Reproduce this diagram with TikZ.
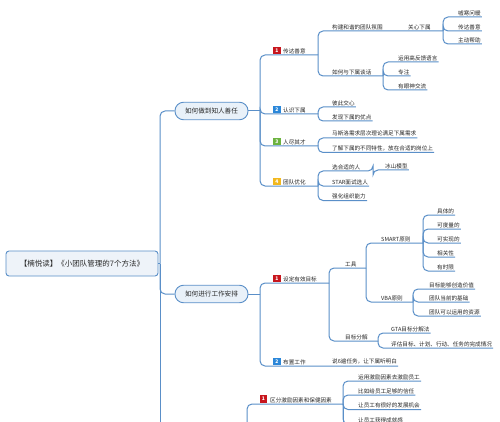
\documentclass[tikz,border=0pt]{standalone}
\usepackage{fontspec}
\newfontfamily\cjk{Noto Sans CJK SC}
\definecolor{lc}{HTML}{5A8FC8}
\definecolor{tx}{HTML}{262626}
\definecolor{pf}{HTML}{E9F1F9}
\definecolor{rf}{HTML}{EEF3F9}
\definecolor{bred}{HTML}{C8161D}
\definecolor{bblue}{HTML}{2B87D9}
\definecolor{bgreen}{HTML}{6CB33F}
\definecolor{byel}{HTML}{F2B81E}
\begin{document}
\begin{tikzpicture}[x=1pt,y=-1pt,
 conn/.style={draw=lc, line width=1pt, rounded corners=5pt},
 lf/.style={anchor=south west, inner xsep=1pt, inner ysep=1.3pt, text=tx, font=\cjk\fontsize{5.6}{6}\selectfont},
 bdg/.style={fill=#1, text=white, minimum size=7.5pt, inner sep=0pt, font=\cjk\bfseries\fontsize{5}{5}\selectfont},
 pill/.style={draw=lc, line width=0.9pt, fill=pf, rounded corners=8.5pt, minimum width=73pt, minimum height=17.5pt, font=\cjk\fontsize{6.6}{7}\selectfont, text=tx, inner sep=0pt},
 rootbox/.style={draw=lc, line width=0.9pt, fill=rf, rounded corners=3pt, minimum width=152pt, minimum height=25pt, font=\cjk\fontsize{7.5}{8}\selectfont, text=tx, inner sep=0pt}
]
\useasboundingbox (0,0) rectangle (500,422);
\clip (0,0) rectangle (500,422);
\fill[white] (0,0) rectangle (500,422);

% root and level 1
\node[rootbox] (root) at (82,263.5) {【楠悦读】《小团队管理的7个方法》};
\node[pill] (A) at (211.5,111) {如何做到知人善任};
\node[pill] (B) at (211.5,294) {如何进行工作安排};
\coordinate (t0) at (160,263.5);
\coordinate (tC) at (160,450);
\draw[conn] (root.east) -- (t0);
\draw[conn] (t0) |- (A.west);
\draw[conn] (t0) |- (B.west);
\draw[conn] (t0) -- (tC);

% ===== Section A =====
\coordinate (jA) at (260,111);
\draw[conn] (A.east) -- (jA);

% A1
\node[bdg=bred] (A1b) at (277,50.5) {1};
\node[lf] (A1) at (282,55) {传达善意};
\coordinate (jA1) at (318,55);
\draw[conn] (jA) |- (jA1);

\node[lf] (A11) at (331,31) {构建和谐的团队氛围};
\node[lf] (A111) at (407,31) {关心下属};
\coordinate (jA111) at (443,31);
\draw[conn] (jA1) |- (A11.south east) -- (A111.south east) -- (jA111);
\node[lf] (A1111) at (457,17) {嘘寒问暖};
\node[lf] (A1112) at (457,31) {传达善意};
\node[lf] (A1113) at (457,44) {主动帮助};
\draw[conn] (jA111) |- (A1111.south east);
\draw[conn] (jA111) |- (A1112.south east);
\draw[conn] (jA111) |- (A1113.south east);

\node[lf] (A12) at (331,76) {如何与下属谈话};
\coordinate (jA12) at (383,76);
\draw[conn] (jA1) |- (A12.south east) -- (jA12);
\node[lf] (A121) at (397,62) {运用高反馈语言};
\node[lf] (A122) at (397,76) {专注};
\node[lf] (A123) at (397,90) {有眼神交流};
\draw[conn] (jA12) |- (A121.south east);
\draw[conn] (jA12) |- (A122.south east);
\draw[conn] (jA12) |- (A123.south east);

% A2
\node[bdg=bblue] (A2b) at (277,109.5) {2};
\node[lf] (A2) at (282,114) {认识下属};
\coordinate (jA2) at (318,114);
\draw[conn] (jA) |- (jA2);
\node[lf] (A21) at (331,107) {彼此交心};
\node[lf] (A22) at (331,121) {发现下属的优点};
\draw[conn] (jA2) |- (A21.south east);
\draw[conn] (jA2) |- (A22.south east);

% A3
\node[bdg=bgreen] (A3b) at (277,141.5) {3};
\node[lf] (A3) at (282,146) {人尽其才};
\coordinate (jA3) at (318,146);
\draw[conn] (jA) |- (jA3);
\node[lf] (A31) at (331,138) {马斯洛需求层次理论满足下属需求};
\node[lf] (A32) at (331,152.5) {了解下属的不同特性，放在合适的岗位上};
\draw[conn] (jA3) |- (A31.south east);
\draw[conn] (jA3) |- (A32.south east);

% A4
\node[bdg=byel] (A4b) at (277,181.5) {4};
\node[lf] (A4) at (282,186) {团队优化};
\coordinate (jA4) at (318,186);
\draw[conn] (jA) |- (jA4);
\node[lf] (A41) at (331,171) {选合适的人};
\node[lf] (A411) at (384,170) {冰山模型};
\coordinate (jA41) at (373,171);
\draw[conn] (jA4) |- (A41.south east) -- (jA41) |- (A411.south east);
\node[lf] (A42) at (331,186) {STAR面试选人};
\node[lf] (A43) at (331,200.5) {强化组织能力};
\draw[conn] (jA4) |- (A42.south east);
\draw[conn] (jA4) |- (A43.south east);

% ===== Section B =====
\coordinate (jB) at (260,294);
\draw[conn] (B.east) -- (jB);

% B1
\node[bdg=bred] (B1b) at (277,278.5) {1};
\node[lf] (B1) at (282,283) {设定有效目标};
\coordinate (jB1) at (329,283);
\draw[conn] (jB) |- (jB1);

\node[lf] (B11) at (344,268) {工具};
\coordinate (jB11) at (366,268);
\draw[conn] (jB1) |- (B11.south east) -- (jB11);

\node[lf] (B111) at (380,243) {SMART原则};
\coordinate (jB111) at (423,243);
\draw[conn] (jB11) |- (B111.south east) -- (jB111);
\node[lf] (B1111) at (436,215) {具体的};
\node[lf] (B1112) at (436,229) {可度量的};
\node[lf] (B1113) at (436,243) {可实现的};
\node[lf] (B1114) at (436,257) {相关性};
\node[lf] (B1115) at (436,271) {有时限};
\draw[conn] (jB111) |- (B1111.south east);
\draw[conn] (jB111) |- (B1112.south east);
\draw[conn] (jB111) |- (B1113.south east);
\draw[conn] (jB111) |- (B1114.south east);
\draw[conn] (jB111) |- (B1115.south east);

\node[lf] (B112) at (380,302) {VBA原则};
\coordinate (jB112) at (413,302);
\draw[conn] (jB11) |- (B112.south east) -- (jB112);
\node[lf] (B1121) at (428,289) {目标能够创造价值};
\node[lf] (B1122) at (428,302) {团队当前的基础};
\node[lf] (B1123) at (428,316) {团队可以运用的资源};
\draw[conn] (jB112) |- (B1121.south east);
\draw[conn] (jB112) |- (B1122.south east);
\draw[conn] (jB112) |- (B1123.south east);

\node[lf] (B12) at (344,341) {目标分解};
\coordinate (jB12) at (378,341);
\draw[conn] (jB1) |- (B12.south east) -- (jB12);
\node[lf] (B121) at (390,333) {GTA目标分解法};
\node[lf] (B122) at (390,348) {评估目标、计划、行动、任务的完成情况};
\draw[conn] (jB12) |- (B121.south east);
\draw[conn] (jB12) |- (B122.south east);

% B2
\node[bdg=bblue] (B2b) at (277,361.5) {2};
\node[lf] (B2) at (282,366) {布置工作};
\node[lf] (B21) at (331,366) {说6遍任务，让下属听明白};
\draw[conn] (jB) |- (B21.south east);

% ===== Section C (partly visible) =====
\coordinate (jC) at (247,450);
\node[bdg=bred] (C1b) at (263.5,399) {1};
\node[lf] (C1) at (269,404) {区分激励因素和保健因素};
\coordinate (jC1) at (343,404);
\draw[conn] (jC) |- (jC1);
\node[lf] (C11) at (357,381) {运用激励因素去激励员工};
\node[lf] (C12) at (357,395) {比如给员工足够的信任};
\node[lf] (C13) at (357,409.5) {让员工有很好的发展机会};
\node[lf] (C14) at (357,424) {让员工获得成就感};
\coordinate (jC1b) at (343,450);
\draw[conn] (jC1) -- (jC1b);
\draw[conn] (jC1) |- (C11.south east);
\draw[conn] (jC1) |- (C12.south east);
\draw[conn] (jC1) |- (C13.south east);
\draw[conn] (jC1) |- (C14.south east);
\end{tikzpicture}
\end{document}
